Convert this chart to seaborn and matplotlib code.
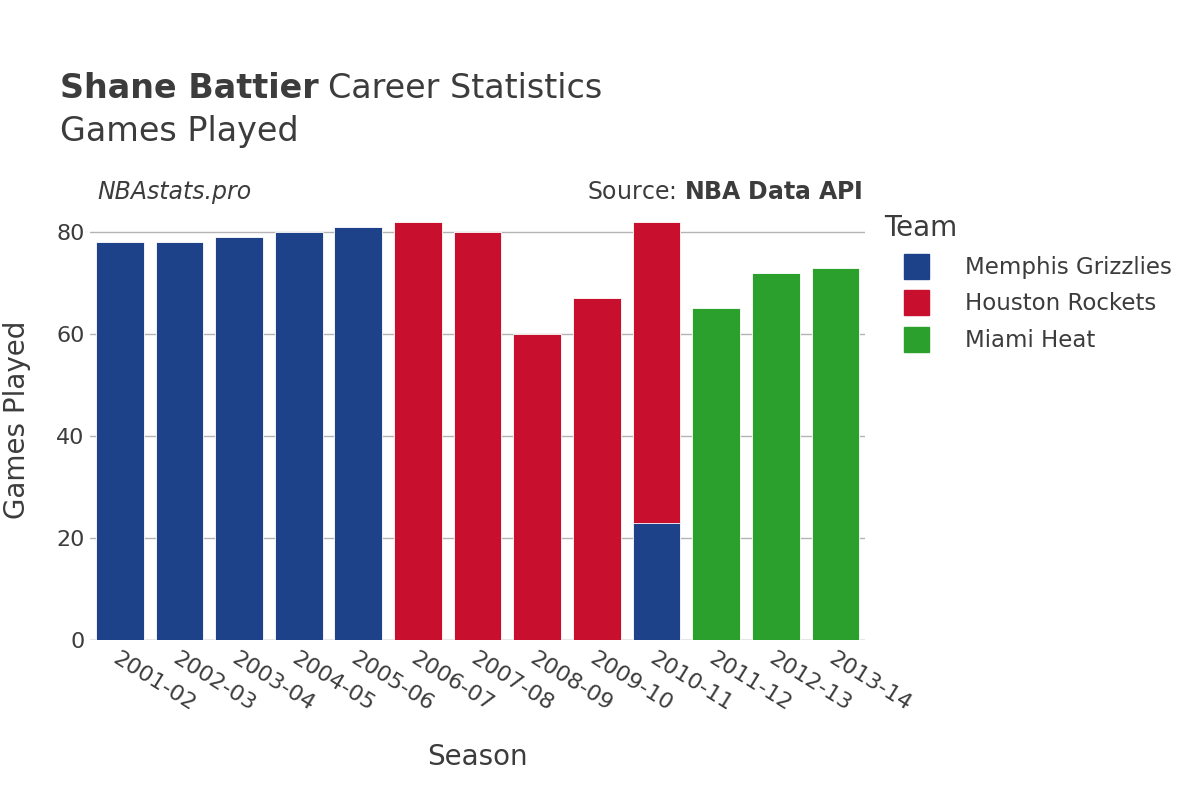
import pandas as pd
import matplotlib.pyplot as plt
import seaborn as sns
from matplotlib.lines import Line2D

# Games played per season and team
seasons = ['2001-02', '2002-03', '2003-04', '2004-05', '2005-06', '2006-07', '2007-08',
           '2008-09', '2009-10', '2010-11', '2011-12', '2012-13', '2013-14']
teams = ['Memphis Grizzlies', 'Houston Rockets', 'Miami Heat']
colors = {'Memphis Grizzlies': '#1d428a', 'Houston Rockets': '#c8102e', 'Miami Heat': '#2ca02c'}

memphis_seasons = ['2001-02', '2002-03', '2003-04', '2004-05', '2005-06', '2010-11']
memphis_games = [78, 78, 79, 80, 81, 23]
houston_seasons = ['2006-07', '2007-08', '2008-09', '2009-10', '2010-11']
houston_games = [82, 80, 60, 67, 59]
miami_seasons = ['2011-12', '2012-13', '2013-14']
miami_games = [65, 72, 73]

df = pd.concat([
    pd.DataFrame({'Season': memphis_seasons, 'Team': 'Memphis Grizzlies', 'Games': memphis_games}),
    pd.DataFrame({'Season': houston_seasons, 'Team': 'Houston Rockets', 'Games': houston_games}),
    pd.DataFrame({'Season': miami_seasons, 'Team': 'Miami Heat', 'Games': miami_games}),
], ignore_index=True)

# stacked: cumulative top per season in team order
df['Top'] = df.groupby('Season')['Games'].cumsum()

sns.set_theme(style='white')
plt.rcParams['font.family'] = ['DejaVu Sans']
txt = '#3c3c3c'

fig = plt.figure(figsize=(12, 8), dpi=100)
ax = fig.add_axes([0.075, 0.2, 0.646, 0.549])

# draw upper layers first so lower layers cover them
for team in reversed(teams):
    sub = df[df['Team'] == team]
    sns.barplot(data=sub, x='Season', y='Top', order=seasons, color=colors[team],
                width=0.8, saturation=1, edgecolor='white', linewidth=0.6, ax=ax, zorder=3)

ax.set_ylim(0, 86.1)
ax.set_xlim(-0.5, len(seasons) - 0.5)
ax.set_yticks([0, 20, 40, 60, 80])
for y in [20, 40, 60, 80]:
    ax.axhline(y, color='#b4b4b4', lw=1, zorder=1)
ax.axhline(0, color='#e6e6e6', lw=1.5, zorder=1)
for s in ax.spines.values():
    s.set_visible(False)

ax.tick_params(axis='y', labelsize=16, colors=txt, length=0, pad=4)
ax.tick_params(axis='x', labelsize=16, colors=txt, length=0, pad=6)
plt.setp(ax.get_xticklabels(), rotation=-32, ha='left', rotation_mode='anchor')

ax.set_xlabel('Season', fontsize=20, color=txt, labelpad=20)
ax.set_ylabel('')
fig.text(17 / 1200, 1 - 420 / 800, 'Games Played', fontsize=20, color=txt,
         rotation=90, ha='center', va='center')

t1 = fig.text(0.05, 0.89, 'Shane Battier', fontsize=24, fontweight='bold', color=txt, va='center')
fig.canvas.draw()
bb = t1.get_window_extent()
fig.text(bb.x1 / 1200 + 0.008, 0.89, 'Career Statistics', fontsize=24, color=txt, va='center')
fig.text(0.05, 0.835, 'Games Played', fontsize=24, color=txt, va='center')

fig.text(0.081, 0.76, 'NBAstats.pro', fontsize=17, style='italic', color=txt, va='center')
fig.text(0.719, 0.76, 'Source: $\\bf{NBA\\ Data\\ API}$', fontsize=17, color=txt,
         va='center', ha='right')

handles = [Line2D([0], [0], marker='s', linestyle='', markersize=18,
                  markerfacecolor=colors[t], markeredgecolor=colors[t]) for t in teams]
leg = fig.legend(handles, teams, loc='upper left', bbox_to_anchor=(0.729, 0.744),
                 frameon=False, fontsize=16.5, title='Team', title_fontsize=20,
                 handletextpad=0.75, labelspacing=0.6, borderaxespad=0, handlelength=2.8)
leg._legend_box.align = 'left'
for t in leg.get_texts():
    t.set_color(txt)
leg.get_title().set_color(txt)

fig.savefig('out.png', dpi=100)
